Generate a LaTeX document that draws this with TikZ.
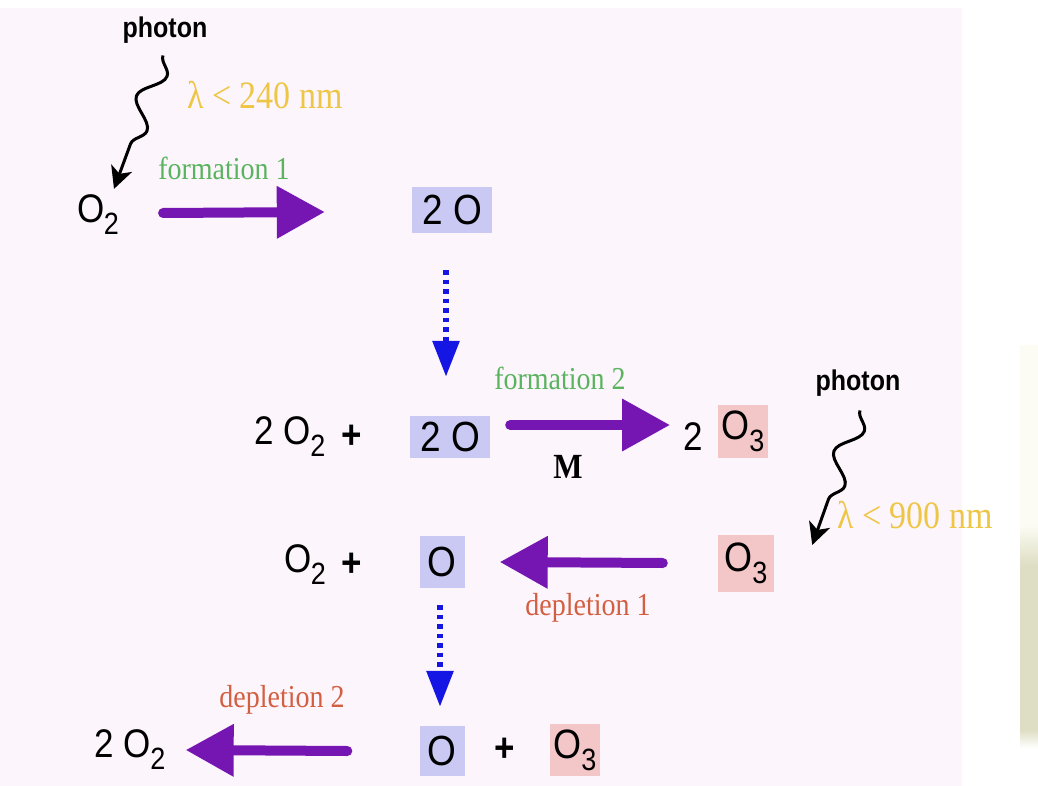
\documentclass[tikz,border=0pt]{standalone}
\usepackage{fontspec}
\usepackage{graphicx}
\setmainfont{Liberation Serif}
\newfontfamily\arialf{Liberation Sans}
\usetikzlibrary{arrows.meta,decorations.pathmorphing}
\definecolor{bgpink}{RGB}{253,245,252}
\definecolor{beige}{RGB}{222,222,196}
\definecolor{faint}{RGB}{252,252,244}
\definecolor{boxblue}{RGB}{201,201,243}
\definecolor{boxpink}{RGB}{243,198,200}
\definecolor{lamyellow}{RGB}{238,198,70}
\definecolor{formgreen}{RGB}{90,180,95}
\definecolor{deplred}{RGB}{210,95,65}
\definecolor{purp}{RGB}{118,22,178}
\definecolor{dblue}{RGB}{22,22,228}
\newcommand\st[1]{\scalebox{1}[1.14]{#1}}
\newcommand\chsub[1]{\kern-0.5pt\raisebox{-0.3em}{\fontsize{27}{27}\selectfont #1}}
\tikzset{
  chem/.style={inner sep=0pt, font=\arialf\fontsize{35}{38}\selectfont},
  bbox/.style={fill=boxblue, inner sep=0pt, font=\arialf\fontsize{37}{40}\selectfont},
  pbox/.style={fill=boxpink, inner sep=0pt, font=\arialf\fontsize{36}{40}\selectfont},
  photonlab/.style={inner sep=0pt, font=\arialf\bfseries\fontsize{25}{28}\selectfont},
  lam/.style={inner sep=0pt, text=lamyellow, font=\fontsize{34}{36}\selectfont},
  form/.style={inner sep=0pt, text=formgreen, font=\fontsize{28}{30}\selectfont},
  depl/.style={inner sep=0pt, text=deplred, font=\fontsize{28}{30}\selectfont},
  mlab/.style={inner sep=0pt, font=\bfseries\fontsize{31}{33}\selectfont},
  parrow/.style={draw=purp, line width=10pt, line cap=round, -{Triangle[length=48pt,width=50pt]}},
  darrow/.style={draw=dblue, line width=6pt, dash pattern=on 4.5pt off 5pt, -{Triangle[length=36pt,width=26pt]}},
  wavy/.style={draw=black, line width=3pt, line join=round, decorate,
    decoration={snake, amplitude=11pt, segment length=58pt, post length=24pt},
    -{Stealth[length=22pt,width=22pt,inset=6pt]}}
}
\begin{document}
\begin{tikzpicture}[x=1pt,y=-1pt]
\useasboundingbox (0,0) rectangle (1038,786);
\fill[white] (0,0) rectangle (1038,786);
\fill[bgpink] (0,8) rectangle (962,786);
\fill[faint] (1020,345) rectangle (1038,525);
\shade[top color=faint, bottom color=beige] (1020,525) rectangle (1038,565);
\fill[beige] (1020,565) rectangle (1038,730);
\shade[top color=beige, bottom color=white] (1020,730) rectangle (1038,748);

% row 1
\node[photonlab] (ph1) at (165,30) {\st{photon}};
\node[lam] (lam1) at (265,95) {\st{λ < 240 nm}};
\node[chem] (o2a) at (98,215) {\st{O\chsub{2}}};
\node[form] (f1) at (224,168) {\st{formation 1}};
\node[bbox, minimum width=80pt, minimum height=46pt] (oa) at (452,210) {\st{2 O}};

% row 2
\node[chem] (o2b) at (290,437) {\st{2 O\chsub{2}}};
\node[chem] (plb) at (352,437) {\st{\bfseries +}};
\node[bbox, minimum width=80pt, minimum height=42pt] (ob) at (450,437) {\st{2 O}};
\node[form] (f2) at (560,378) {\st{formation 2}};
\node[mlab] (m) at (568,467) {\st{M}};
\node[chem] (twob) at (693,437) {\st{2}};
\node[pbox, minimum width=50pt, minimum height=53pt] (o3b) at (743,431) {\st{O\chsub{3}}};
\node[photonlab] (ph2) at (858,383) {\st{photon}};
\node[lam] (lam2) at (915,515) {\st{λ < 900 nm}};

% row 3
\node[chem] (o2c) at (305,565) {\st{O\chsub{2}}};
\node[chem] (plc) at (352,565) {\st{\bfseries +}};
\node[bbox, minimum width=45pt, minimum height=52pt] (oc) at (442,562) {\st{O}};
\node[pbox, minimum width=56pt, minimum height=57pt] (o3c) at (746,563) {\st{O\chsub{3}}};
\node[depl] (d1) at (588,608) {\st{depletion 1}};

% row 4
\node[chem] (o2d) at (130,750) {\st{2 O\chsub{2}}};
\node[depl] (d2) at (282,700) {\st{depletion 2}};
\node[bbox, minimum width=45pt, minimum height=50pt] (od) at (442,751) {\st{O}};
\node[chem] (pld) at (505,750) {\st{\bfseries +}};
\node[pbox, minimum width=50pt, minimum height=52pt] (o3d) at (575,750) {\st{O\chsub{3}}};

% connectors
\draw[parrow] ([xshift=44pt,yshift=2pt]o2a.east) -- ([xshift=-87pt,yshift=-2pt]oa.west);
\draw[parrow] ([xshift=20pt,yshift=12pt]ob.east) -- ([xshift=-13pt,yshift=12pt]twob.west);
\draw[parrow] ([xshift=-55pt]o3c.west) -- ([xshift=35pt]oc.east);
\draw[parrow] ([xshift=-72pt]od.west) -- ([xshift=20pt]o2d.east);

\draw[darrow] ([xshift=-6pt,yshift=-37pt]oa.south) -- ([xshift=-4pt,yshift=39pt]ob.north);
\draw[darrow] ([xshift=-2pt,yshift=-17pt]oc.south) -- ([xshift=-2pt,yshift=19pt]od.north);

\draw[wavy] ([xshift=-2pt,yshift=-12pt]ph1.south) -- ([xshift=16pt,yshift=6pt]o2a.north);
\draw[wavy] ([xshift=2pt,yshift=-14pt]ph2.south) -- ([xshift=38pt,yshift=18pt]o3c.east);
\end{tikzpicture}
\end{document}
